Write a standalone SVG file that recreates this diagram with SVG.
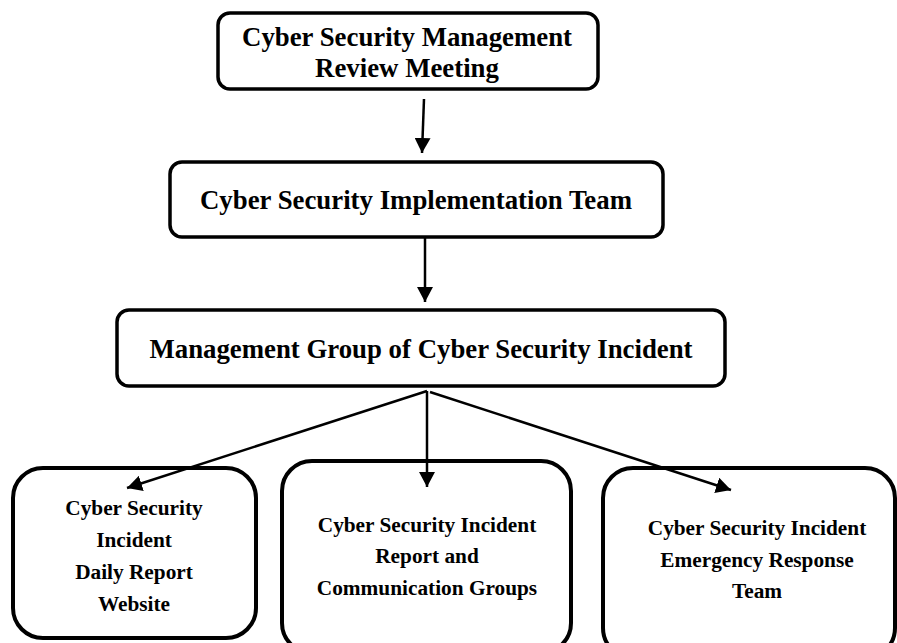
<svg xmlns="http://www.w3.org/2000/svg" width="897" height="643" viewBox="0 0 897 643">
<style>
.box{fill:#fff;stroke:#000;stroke-width:3.5}
.big{fill:#fff;stroke:#000;stroke-width:4}
.t{font-family:"Liberation Serif","Times New Roman",serif;font-weight:bold;font-size:26.8px;fill:#000;text-anchor:middle}
.s{font-family:"Liberation Serif","Times New Roman",serif;font-weight:bold;font-size:21.3px;fill:#000;text-anchor:middle}
.c{stroke:#000;stroke-width:2.5;fill:none;marker-end:url(#ah)}
</style>
<defs>
<marker id="ah" viewBox="0 0 15 16" refX="15" refY="8" markerWidth="15" markerHeight="16" markerUnits="userSpaceOnUse" orient="auto">
<path d="M0,0 L15,8 L0,16 z" fill="#000"/>
</marker>
</defs>
<rect width="897" height="643" fill="#fff"/>
<g id="n1">
<rect class="box" x="218" y="13" width="380" height="76" rx="12"/>
<text class="t" x="407" y="46">Cyber Security Management</text>
<text class="t" x="407" y="77">Review Meeting</text>
</g>
<g id="n2">
<rect class="box" x="170" y="162" width="493" height="75" rx="12"/>
<text class="t" x="416" y="209">Cyber Security Implementation Team</text>
</g>
<g id="n3">
<rect class="box" x="117" y="310" width="608" height="76" rx="12"/>
<text class="t" x="421" y="358">Management Group of Cyber Security Incident</text>
</g>
<g id="n4">
<rect class="big" x="13" y="468" width="243" height="170" rx="30"/>
<text class="s" x="134" y="515">Cyber Security</text>
<text class="s" x="134" y="547">Incident</text>
<text class="s" x="134" y="579">Daily Report</text>
<text class="s" x="134" y="611">Website</text>
</g>
<g id="n5">
<rect class="big" x="282" y="461" width="289" height="192" rx="30"/>
<text class="s" x="427" y="532">Cyber Security Incident</text>
<text class="s" x="427" y="563">Report and</text>
<text class="s" x="427" y="595">Communication Groups</text>
</g>
<g id="n6">
<rect class="big" x="603" y="468" width="292" height="190" rx="30"/>
<text class="s" x="757" y="535">Cyber Security Incident</text>
<text class="s" x="757" y="567">Emergency Response</text>
<text class="s" x="757" y="598">Team</text>
</g>
<g id="connectors">
<line class="c" x1="424" y1="99" x2="422" y2="153"/>
<line class="c" x1="425" y1="237" x2="425" y2="302"/>
<line class="c" x1="427" y1="391" x2="127" y2="488"/>
<line class="c" x1="427" y1="391" x2="427" y2="487"/>
<line class="c" x1="430" y1="392" x2="731" y2="490"/>
</g>
</svg>
